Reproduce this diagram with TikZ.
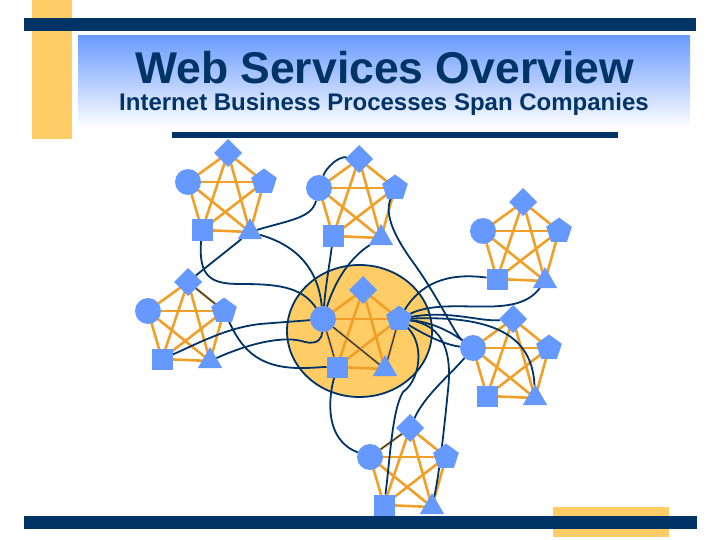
\documentclass[tikz,border=0pt]{standalone}
\usepackage{fontspec}
\setmainfont{Liberation Sans}
\usetikzlibrary{shapes.geometric,calc}
\definecolor{navy}{HTML}{003366}
\definecolor{gold}{HTML}{FFCC66}
\definecolor{nodeblue}{HTML}{6699FF}
\definecolor{edgeorange}{HTML}{F0A028}
\definecolor{titleblue}{HTML}{6A9BFF}
\pgfdeclarelayer{back}
\pgfdeclarelayer{edges}
\pgfdeclarelayer{curves}
\pgfsetlayers{back,edges,curves,main}
\tikzset{
  nbase/.style={fill=nodeblue, draw=none, inner sep=0pt, outer sep=0pt},
  ncirc/.style={nbase, circle, minimum size=26pt},
  ndiam/.style={nbase, diamond, minimum width=28pt, minimum height=28pt},
  npent/.style={nbase, regular polygon, regular polygon sides=5, minimum size=27pt},
  nsq/.style={nbase, rectangle, minimum size=21pt},
  ntri/.style={nbase, regular polygon, regular polygon sides=3, minimum size=28pt},
  oedge/.style={draw=edgeorange, line width=2.6pt},
  link/.style={draw=navy, line width=1.8pt},
  thinlink/.style={draw=navy, line width=1pt},
  barfill/.style={fill=navy, draw=none},
  goldfill/.style={fill=gold, draw=none},
}
\newcommand\mkcluster[3]{%
  \node[ndiam] (#1-d) at (#2,#3) {};
  \node[ncirc] (#1-c) at ($(#2,#3)+(-40,29)$) {};
  \node[npent] (#1-p) at ($(#2,#3)+(36,29)$) {};
  \node[nsq]   (#1-s) at ($(#2,#3)+(-26,77)$) {};
  \node[ntri]  (#1-t) at ($(#2,#3)+(22,79)$) {};
  \begin{pgfonlayer}{edges}
    \foreach \ea/\eb in {d/c,d/p,d/s,d/t,c/p,c/s,c/t,p/s,p/t,s/t}
      \draw[oedge] (#1-\ea.center) -- (#1-\eb.center);
  \end{pgfonlayer}}
\begin{document}
\begin{tikzpicture}[x=1pt,y=-1pt]
\useasboundingbox (0,0) rectangle (720,540);
% header
\fill[goldfill] (32,0) rectangle (72,139);
\fill[barfill] (24,18) rectangle (696,31);
\shade[top color=titleblue, bottom color=white, draw=none] (78,36) rectangle (690,128);
\node[anchor=base, text=navy, inner sep=0pt, font=\fontsize{44.5}{45}\selectfont\bfseries] (title) at (384.5,84) {Web Services Overview};
\node[anchor=base, text=navy, inner sep=0pt, font=\fontsize{24}{25}\selectfont\bfseries] (subtitle) at (384,111) {Internet Business Processes Span Companies};
\fill[barfill] (172,132) rectangle (618,138);
% footer
\fill[goldfill] (553,507) rectangle (669,537);
\fill[barfill] (24,516) rectangle (697,529);
% central company
\begin{pgfonlayer}{back}
  \draw[navy, line width=1.8pt, fill=gold] (359.5,331) ellipse [x radius=72.5pt, y radius=66pt];
\end{pgfonlayer}
% clusters
\mkcluster{c1}{228}{153}
\mkcluster{c2}{359}{159}
\mkcluster{c3}{523}{202}
\mkcluster{c4}{188}{282}
\mkcluster{c5}{363}{290}
\mkcluster{c6}{513}{319}
\mkcluster{c7}{410}{428}
% connectors
\begin{pgfonlayer}{curves}
  \draw[link] (c1-t) .. controls (290,220) and (312,218) .. (c2-c);
  \draw[link] (c2-c) .. controls (326,168) and (338,156) .. (c2-d);
  \draw[link] (c1-t) .. controls (296,245) and (318,268) .. (c5-c);
  \draw[link] (c1-s) .. controls (198,278) and (212,284) .. (240,284) .. controls (275,284) and (302,286) .. (c5-c);
  \draw[link] (c1-t) .. controls (228,250) and (205,268) .. (c4-d);
  \draw[thinlink] (c4-d) -- (c4-p);
  \draw[link] (c2-s) .. controls (330,262) and (326,282) .. (c5-c);
  \draw[link] (c2-t) .. controls (362,250) and (340,266) .. (c5-c);
  \draw[link] (c2-p) .. controls (384,215) and (395,238) .. (415,265) .. controls (440,300) and (455,335) .. (c6-c);
  \draw[link] (c5-p) .. controls (420,285) and (445,272) .. (c3-s);
  \draw[link] (c5-p) .. controls (450,295) and (515,322) .. (c3-t);
  \draw[link] (c5-p) .. controls (450,310) and (480,322) .. (c6-d);
  \draw[link] (c5-p) .. controls (430,322) and (448,330) .. (c6-c);
  \draw[link] (c5-p) .. controls (425,335) and (445,345) .. (c6-c);
  \draw[link] (c5-p) .. controls (480,316) and (532,328) .. (c6-t);
  \draw[link] (c5-p) .. controls (445,325) and (452,355) .. (448,390) .. controls (445,420) and (440,470) .. (c7-t);
  \draw[link] (c5-p) .. controls (425,345) and (420,380) .. (403,392) .. controls (392,410) and (390,460) .. (c7-s);
  \draw[link] (c6-c) .. controls (450,375) and (425,395) .. (c7-d);
  \draw[link] (c5-s) .. controls (328,400) and (325,440) .. (c7-c);
  \draw[link] (c4-p) .. controls (240,345) and (255,368) .. (300,368) .. controls (315,368) and (320,367) .. (c5-s);
  \draw[link] (c4-t) .. controls (250,343) and (285,335) .. (305,342) .. controls (318,345) and (322,338) .. (c5-c);
  \draw[link] (c4-s) .. controls (195,345) and (225,328) .. (260,324) .. controls (285,322) and (300,321) .. (c5-c);
  \draw[thinlink] (c5-c) -- (c5-s);
  \draw[thinlink] (c5-c) -- (c5-t);
  \draw[thinlink] (c5-p) -- (c5-t);
  \draw[thinlink] (c7-c) -- (c7-d);
\end{pgfonlayer}
\end{tikzpicture}
\end{document}
